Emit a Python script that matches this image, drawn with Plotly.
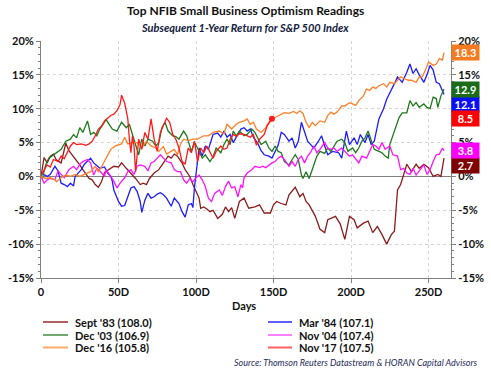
import plotly.graph_objects as go

# ---------------- data ----------------
series_names = ["Sept '83 (108.0)", "Mar '84 (107.1)", "Dec '03 (106.9)",
                "Nov '04 (107.4)", "Dec '16 (105.8)", "Nov '17 (107.5)"]

sept83_days = [0, 2, 4, 6, 8, 10, 13, 16, 18, 20,
               23, 25, 27, 29, 31, 33, 35, 37, 39, 41,
               44, 47, 50, 52, 55, 58, 61, 64, 66, 68,
               70, 73, 76, 79, 82, 84, 86, 88, 91, 93,
               96, 98, 100, 102, 103, 105, 107, 109, 111, 114,
               117, 119, 121, 123, 125, 128, 131, 134, 138, 141,
               144, 148, 150, 152, 155, 158, 160, 164, 167, 169,
               171, 173, 177, 180, 183, 185, 190, 193, 196, 199,
               202, 204, 208, 211, 214, 217, 220, 223, 226, 228,
               230, 232, 234, 236, 239, 242, 244, 247, 250, 253,
               256, 258, 260]
sept83_vals = [0.0, 2.8, 2.0, 3.0, 3.3, 2.4, 2.0, 4.9, 3.8, 3.2,
               2.4, 1.7, 1.0, 0.4, -0.3, -0.5, -1.2, -1.6, -0.8, 0.6,
               1.0, 1.5, 1.4, 2.0, 1.2, 0.5, -0.3, -1.2, -1.0, -1.2,
               -0.3, 0.5, 1.0, 2.0, 3.0, 2.7, 3.3, 3.0, 2.0, 1.0,
               0.0, -1.2, -2.2, -3.2, -4.7, -4.5, -4.8, -5.2, -5.0, -6.2,
               -5.6, -4.5, -5.2, -4.6, -6.2, -3.7, -3.2, -4.7, -4.5, -4.2,
               -5.4, -5.4, -4.2, -3.7, -4.0, -4.2, -2.7, -1.6, -3.0, -2.5,
               -3.7, -4.2, -5.9, -7.8, -8.3, -6.4, -5.9, -7.0, -9.3, -5.9,
               -6.4, -7.6, -6.9, -6.6, -8.3, -7.4, -8.6, -10.0, -8.6, -8.1,
               -2.0, -1.2, 0.3, 1.8, 0.7, 1.8, 1.2, 1.8, 1.3, 0.0,
               0.3, 0.0, 2.7]

mar84_days = [0, 2, 4, 6, 9, 11, 13, 15, 17, 19,
              21, 22, 24, 26, 28, 30, 32, 34, 36, 38,
              41, 43, 45, 46, 47, 50, 52, 54, 56, 58,
              60, 62, 64, 65, 67, 69, 71, 73, 75, 77,
              79, 81, 84, 86, 89, 91, 93, 95, 97, 98,
              99, 100, 101, 102, 104, 106, 108, 111, 114, 116,
              118, 120, 122, 124, 126, 129, 131, 133, 135, 137,
              140, 142, 144, 147, 149, 151, 153, 155, 157, 160,
              162, 164, 166, 168, 170, 172, 174, 176, 179, 181,
              183, 185, 188, 192, 194, 197, 199, 202, 204, 206,
              209, 211, 213, 215, 218, 221, 223, 226, 228, 230,
              233, 236, 238, 240, 242, 244, 247, 249, 251, 253,
              255, 257, 259, 260]
mar84_vals = [0.5, 0.2, 0.0, 0.3, 1.5, 0.8, -1.0, -1.2, -1.5, -1.0,
              -1.4, 0.0, 0.5, 1.0, 1.8, 2.2, 2.7, 2.0, 1.6, 1.2,
              1.4, 0.5, 0.0, -0.7, -2.0, -3.7, -4.4, -4.3, -3.0, -1.7,
              -1.5, -2.2, -3.7, -5.3, -3.5, -2.5, -3.2, -3.0, -2.6, -2.4,
              -2.7, -3.2, -4.4, -3.2, -4.0, -5.2, -6.0, -4.2, -4.0, -4.6,
              -1.6, 0.2, 2.8, 4.2, 3.0, 4.5, 4.0, 6.2, 6.4, 5.8,
              6.7, 5.8, 6.2, 5.0, 5.8, 7.0, 7.2, 6.7, 7.0, 5.8,
              4.8, 3.8, 3.2, 3.0, 2.7, 3.6, 4.6, 6.5, 6.2, 5.2,
              5.7, 4.2, 5.2, 8.0, 6.7, 5.2, 4.7, 4.2, 5.2, 6.0,
              4.5, 3.2, 3.7, 3.5, 2.7, 6.7, 4.7, 5.7, 4.7, 6.2,
              5.0, 6.2, 4.7, 5.2, 8.5, 10.0, 11.4, 12.7, 13.7, 14.7,
              13.9, 15.4, 16.6, 15.2, 15.9, 15.0, 13.9, 15.0, 16.4, 15.7,
              13.9, 13.7, 12.7, 12.1]

dec03_days = [0, 1, 3, 5, 7, 10, 13, 16, 19, 21,
              23, 25, 27, 30, 32, 34, 36, 38, 40, 42,
              44, 46, 49, 52, 55, 57, 59, 61, 63, 65,
              67, 69, 72, 74, 76, 78, 80, 82, 85, 87,
              89, 92, 94, 97, 99, 101, 104, 106, 109, 111,
              113, 116, 118, 120, 122, 124, 126, 128, 131, 133,
              136, 138, 140, 142, 145, 147, 149, 151, 153, 155,
              157, 160, 162, 164, 166, 168, 169, 171, 173, 175,
              176, 178, 180, 183, 185, 187, 189, 191, 194, 196,
              198, 201, 203, 205, 207, 209, 211, 213, 215, 218,
              220, 222, 224, 225, 227, 229, 231, 233, 236, 238,
              240, 242, 244, 247, 249, 251, 253, 255, 256, 258,
              260]
dec03_vals = [0.0, -0.2, 1.7, 2.7, 3.0, 3.5, 4.0, 5.2, 5.5, 6.2,
              5.7, 7.2, 6.5, 8.2, 6.2, 6.5, 6.0, 7.0, 7.7, 8.4,
              7.7, 7.0, 6.7, 8.0, 7.2, 7.7, 6.2, 4.7, 3.2, 5.5,
              4.5, 5.5, 5.2, 4.5, 5.0, 7.2, 8.0, 6.7, 6.0, 5.9,
              5.5, 6.7, 6.0, 3.7, 5.0, 4.2, 2.7, 3.2, 2.2, 2.9,
              4.2, 3.5, 4.7, 5.5, 4.7, 6.7, 6.0, 6.7, 6.0, 6.2,
              7.0, 6.5, 5.5, 4.7, 5.2, 4.2, 3.7, 4.5, 3.7, 3.5,
              2.2, 1.7, 2.5, 3.2, 2.5, 0.2, -0.3, 0.7, -0.3, 1.2,
              1.7, 3.0, 3.7, 3.4, 4.2, 3.7, 4.5, 5.2, 5.5, 5.0,
              3.7, 4.2, 3.5, 4.2, 5.2, 5.7, 6.7, 5.2, 4.0, 3.7,
              3.5, 3.0, 2.7, 4.7, 6.0, 7.2, 8.7, 9.4, 9.4, 11.2,
              10.4, 10.9, 10.2, 10.7, 10.2, 10.0, 11.7, 11.5, 10.2, 11.9,
              12.9]

nov04_days = [0, 2, 4, 6, 9, 11, 13, 15, 18, 21,
              23, 25, 27, 30, 32, 34, 36, 38, 41, 42,
              45, 47, 49, 51, 54, 56, 58, 60, 62, 64,
              67, 69, 71, 73, 75, 77, 79, 81, 84, 86,
              88, 90, 92, 94, 96, 98, 100, 102, 104, 106,
              108, 110, 112, 115, 117, 119, 121, 123, 125, 127,
              129, 130, 131, 133, 136, 138, 141, 143, 145, 147,
              149, 151, 153, 155, 157, 160, 162, 164, 166, 168,
              170, 172, 174, 176, 178, 180, 183, 185, 187, 189,
              191, 194, 196, 199, 201, 203, 205, 207, 210, 212,
              214, 216, 218, 220, 222, 225, 227, 230, 232, 234,
              236, 238, 240, 242, 245, 247, 249, 251, 253, 255,
              257, 259, 260]
nov04_vals = [0.0, -1.0, -0.5, -0.3, -0.5, 0.8, 0.3, -0.2, 1.0, 1.5,
              1.0, 1.8, 2.2, 2.5, 2.0, 0.2, 1.2, 0.8, 0.0, 1.0,
              0.0, -0.7, -1.7, -1.0, -0.2, 0.7, 1.0, 0.3, 1.5, 1.7,
              1.5, 0.8, 2.0, 2.2, 2.7, 3.2, 2.7, 2.2, 2.0, 1.0,
              0.7, 0.7, -0.5, -1.0, -0.3, -0.8, -0.2, 0.2, -0.5, -1.5,
              -3.2, -3.7, -2.5, -2.0, -2.8, -1.5, -0.7, -1.7, -1.5, -3.0,
              -1.2, -1.7, -0.2, 0.5, 1.0, 1.5, 1.3, 1.5, 1.3, 1.7,
              2.0, 2.2, 2.7, 3.0, 2.5, 1.5, 2.2, 1.5, 2.5, 3.0,
              2.0, 3.0, 3.6, 4.5, 3.5, 4.0, 5.0, 4.2, 4.0, 4.2,
              3.7, 4.2, 3.7, 3.0, 3.2, 2.5, 2.0, 3.0, 2.7, 3.7,
              4.7, 4.5, 4.0, 5.0, 4.0, 4.5, 3.2, 3.0, 1.0, 1.2,
              0.5, 0.3, 1.2, 0.2, 1.0, 1.7, 0.3, 1.0, 2.2, 3.2,
              3.3, 4.2, 3.8]

dec16_days = [0, 3, 6, 9, 10, 13, 16, 19, 22, 25,
              28, 30, 32, 35, 37, 39, 41, 43, 45, 48,
              50, 52, 54, 56, 59, 62, 65, 68, 71, 74,
              76, 79, 81, 83, 86, 88, 90, 92, 95, 98,
              101, 105, 108, 111, 115, 118, 120, 123, 126, 128,
              131, 133, 135, 137, 139, 142, 145, 147, 149, 151,
              154, 157, 160, 163, 165, 167, 169, 171, 173, 175,
              177, 180, 183, 185, 187, 189, 191, 194, 196, 199,
              201, 203, 205, 208, 210, 212, 214, 216, 218, 221,
              223, 225, 228, 230, 232, 234, 237, 239, 242, 244,
              246, 248, 250, 253, 255, 257, 259, 260]
dec16_vals = [0.0, -0.3, -0.2, -0.5, -0.8, -0.2, 0.2, 0.0, 0.3, 0.0,
              0.3, 0.5, 0.7, 1.5, 0.7, 1.4, 2.2, 3.2, 4.0, 4.5,
              4.6, 4.8, 5.8, 4.8, 5.0, 5.0, 4.2, 5.2, 4.5, 4.2,
              3.7, 4.4, 3.3, 3.6, 4.0, 3.2, 4.8, 5.5, 5.3, 5.5,
              5.5, 6.0, 6.0, 6.5, 6.7, 6.3, 7.7, 7.0, 7.7, 8.0,
              8.2, 8.5, 7.7, 8.0, 7.0, 6.5, 7.2, 8.0, 8.5, 8.7,
              9.0, 9.4, 9.3, 9.6, 9.3, 9.7, 9.3, 8.0, 7.2, 8.0,
              7.5, 8.2, 8.0, 9.0, 9.5, 9.2, 9.5, 10.4, 10.4, 10.9,
              10.7, 10.5, 11.2, 11.9, 12.9, 12.7, 13.2, 13.0, 13.4, 13.7,
              13.2, 13.9, 13.7, 14.2, 14.7, 14.5, 14.2, 14.2, 13.9, 14.7,
              14.7, 15.7, 16.9, 16.4, 16.6, 17.4, 17.2, 18.3]

nov17_days = [0, 2, 4, 6, 8, 11, 13, 15, 17, 19,
              21, 23, 26, 29, 31, 33, 35, 37, 39, 41,
              43, 45, 47, 49, 51, 52, 54, 56, 57, 58,
              59, 60, 61, 63, 65, 67, 69, 71, 73, 75,
              77, 79, 81, 83, 85, 87, 89, 91, 93, 95,
              97, 99, 101, 103, 105, 107, 109, 111, 113, 116,
              118, 120, 122, 124, 126, 128, 131, 133, 135, 137,
              139, 141, 144, 146, 149]
nov17_vals = [0.2, 1.0, 1.7, 1.4, 2.5, 2.2, 3.0, 2.6, 3.5, 4.5,
              5.0, 4.7, 4.8, 4.6, 4.8, 5.2, 6.0, 7.0, 7.4, 8.2,
              8.6, 9.0, 9.2, 9.7, 10.6, 12.0, 10.8, 8.5, 5.5, 3.5,
              6.0, 4.5, 0.7, 5.5, 4.0, 6.5, 5.5, 8.5, 5.5, 3.7,
              6.5, 7.7, 8.6, 8.0, 6.2, 5.5, 4.2, 2.2, 1.8, 4.2,
              3.5, 5.2, 2.2, 4.2, 3.5, 4.5, 3.7, 2.7, 3.7, 4.5,
              4.0, 4.2, 5.5, 6.2, 5.9, 6.3, 6.2, 6.0, 5.8, 6.2,
              4.6, 5.5, 6.2, 7.5, 8.5]

x_tick_vals = [0, 50, 100, 150, 200, 250]
x_tick_text = ["0", "50D", "100D", "150D", "200D", "250D"]
y_tick_vals = [-15, -10, -5, 0, 5, 10, 15, 20]
y_tick_text = ["-15%", "-10%", "-5%", "0%", "5%", "10%", "15%", "20%"]
# right axis: the 10% label sits fully behind the value boxes in the reference
y2_tick_text = ["-15%", "-10%", "-5%", "0%", "5%", "", "15%", "20%"]

# ---------------- styles ----------------
line_colors = ["#8C1C1C", "#1C1CFF", "#1F7A1F", "#FF14FF", "#FF7F27", "#FF1A1A"]
box_colors = ["#7F0000", "#0A10F5", "#1B6B1B", "#FF00FF", "#F47B20", "#FF0000"]
legend_colors = ["#B06060", "#6060FF", "#70A870", "#FF80FF", "#FFAA70", "#FF6060"]
# vertical nudges (in %) of right-hand value boxes to avoid overlap
box_nudge = [-1.15, -1.45, 0.0, 0.0, 0.0, 0.0]

all_days = [sept83_days, mar84_days, dec03_days, nov04_days, dec16_days, nov17_days]
all_vals = [sept83_vals, mar84_vals, dec03_vals, nov04_vals, dec16_vals, nov17_vals]

W, H = 491, 372
L, R, T, B = 41, 40, 41, 94
PW, PH = W - L - R, H - T - B


def px_x(px):
    return (px - L) / PW


def px_y(py):
    return (H - B - py) / PH


FONT = "Lato"
fig = go.Figure()

for i, (d, v) in enumerate(zip(all_days, all_vals)):
    fig.add_trace(go.Scatter(
        x=d, y=v, mode="lines", name=series_names[i],
        line=dict(color=line_colors[i], width=1.3),
        yaxis="y2" if i == 5 else "y",
        showlegend=False, hoverinfo="skip"))

# end marker of the Nov '17 series (latest reading)
fig.add_trace(go.Scatter(
    x=[nov17_days[-1]], y=[nov17_vals[-1]], mode="markers",
    marker=dict(color=line_colors[5], size=6), yaxis="y2",
    showlegend=False, hoverinfo="skip"))

axis_font = dict(family=FONT, size=11, color="#111111", weight="bold")

fig.update_layout(
    width=W, height=H,
    margin=dict(l=L, r=R, t=T, b=B, autoexpand=False),
    paper_bgcolor="white", plot_bgcolor="white",
    showlegend=False,
    xaxis=dict(range=[0, 264.5], tickvals=x_tick_vals, ticktext=x_tick_text,
               showgrid=True, gridcolor="#D4D4D4", griddash="dot", gridwidth=1,
               zeroline=False, showline=True, linecolor="#808080", linewidth=1,
               ticks="outside", ticklen=4, tickcolor="#808080",
               tickfont=axis_font, automargin=False),
    yaxis=dict(range=[-15, 20], tickvals=y_tick_vals, ticktext=y_tick_text,
               showgrid=True, gridcolor="#D4D4D4", griddash="dot", gridwidth=1,
               zeroline=True, zerolinecolor="#808080", zerolinewidth=1,
               showline=True, linecolor="#808080", linewidth=1,
               ticks="outside", ticklen=4, tickcolor="#808080",
               minor=dict(dtick=1, ticks="outside", ticklen=2, tickcolor="#808080", showgrid=False),
               tickfont=axis_font, automargin=False),
    yaxis2=dict(range=[-15, 20], tickvals=y_tick_vals, ticktext=y2_tick_text,
                overlaying="y", side="right", showgrid=False, zeroline=False,
                showline=True, linecolor="#808080", linewidth=1,
                ticks="outside", ticklen=4, tickcolor="#808080",
                minor=dict(dtick=1, ticks="outside", ticklen=2, tickcolor="#808080", showgrid=False),
                tickfont=axis_font, automargin=False),
)

ann = []
# titles
ann.append(dict(text="<b>Top NFIB Small Business Optimism Readings</b>",
                xref="paper", yref="paper", x=px_x(245.5), y=px_y(11),
                xanchor="center", yanchor="middle", showarrow=False,
                font=dict(family=FONT, size=12, color="#111111")))
ann.append(dict(text="<b><i>Subsequent 1-Year Return for S&P 500 Index</i></b>",
                xref="paper", yref="paper", x=px_x(245), y=px_y(27),
                xanchor="center", yanchor="middle", showarrow=False,
                font=dict(family=FONT, size=11, color="#14213D")))
ann.append(dict(text="<b>Days</b>", xref="paper", yref="paper",
                x=px_x(244), y=px_y(305), xanchor="center", yanchor="middle",
                showarrow=False, font=dict(family=FONT, size=11, color="#111111")))
ann.append(dict(text="<i>Source: Thomson Reuters Datastream & HORAN Capital Advisors</i>",
                xref="paper", yref="paper", x=px_x(480), y=px_y(362),
                xanchor="right", yanchor="middle", showarrow=False,
                font=dict(family=FONT, size=9, color="#1F2D5C")))

# right-hand value boxes
for i, v in enumerate(all_vals):
    ann.append(dict(text="<b>%.1f</b>" % v[-1], xref="paper", yref="y",
                    x=px_x(451), y=v[-1] + box_nudge[i],
                    xanchor="left", yanchor="middle", showarrow=False,
                    bgcolor=box_colors[i], width=27, height=15, borderpad=0,
                    font=dict(family=FONT, size=11, color="white")))

# manual legend (two columns)
legend_cols = [(43, 68, 73), (268, 292, 297)]
legend_rows = [322, 335, 347.5]
shapes = []
for i, name in enumerate(series_names):
    col = legend_cols[i % 2]
    row = legend_rows[i // 2]
    shapes.append(dict(type="line", xref="paper", yref="paper",
                       x0=px_x(col[0]), x1=px_x(col[1]), y0=px_y(row), y1=px_y(row),
                       line=dict(color=legend_colors[i], width=2)))
    ann.append(dict(text="<b>%s</b>" % name, xref="paper", yref="paper",
                    x=px_x(col[2]), y=px_y(row), xanchor="left", yanchor="middle",
                    showarrow=False, font=dict(family=FONT, size=11, color="#111111")))

fig.update_layout(annotations=ann, shapes=shapes)
fig.write_html("out.html", config={"displayModeBar": False},
               post_script="document.body.style.margin='0px';")
